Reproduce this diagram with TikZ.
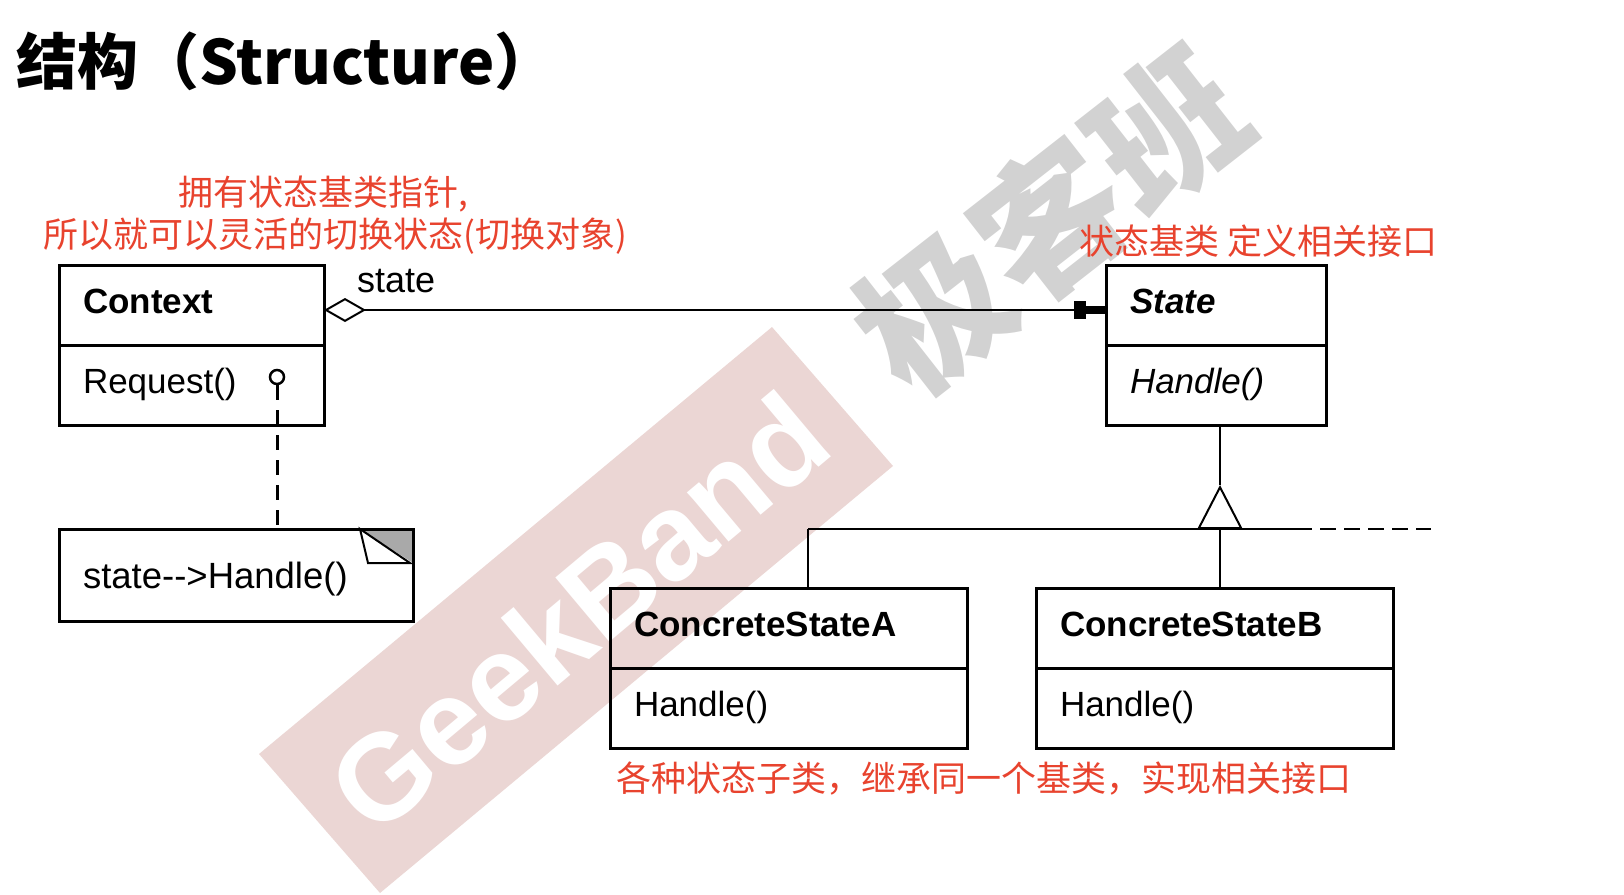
\documentclass[tikz,border=0pt]{standalone}
\usepackage{fontspec}
\setmainfont{Liberation Sans}
\newfontfamily\cjk{Noto Sans CJK SC}
\usetikzlibrary{arrows.meta}
\definecolor{remarkred}{HTML}{E8432E}
\definecolor{wmpink}{HTML}{EBD6D4}
\definecolor{wmgray}{HTML}{D2D2D2}
\definecolor{foldgray}{HTML}{A9A9A9}

\tikzset{
 cls/.style={draw,line width=3pt,outer sep=0pt,minimum height=80pt,inner xsep=24pt,inner ysep=0pt,
   align=left,text height=25pt,text depth=8pt,font=\fontsize{35}{40}\selectfont},
 remark/.style={anchor=west,inner sep=0pt,text=remarkred,font=\cjk\fontsize{35}{40}\selectfont},
 wire/.style={line width=2.5pt},
 assoc/.style={wire,{Diamond[open,length=42pt,width=24pt,line width=2pt]}-{Rectangle[length=12pt,width=18pt]Rectangle[length=20pt,width=8pt]}},
 gen/.style={line width=2pt,-{Triangle[open,length=44pt,width=45pt]}},
 dep/.style={line width=3pt,dash pattern=on 15pt off 10pt},
}

\begin{document}
\begin{tikzpicture}[x=1pt,y=-1pt]
 \useasboundingbox (0,0) rectangle (1624,894);
 % watermark
 \fill[wmpink] (259,754) -- (772,327) -- (893,466) -- (380,893) -- cycle;
 \node[white,rotate=40,font=\bfseries\fontsize{122}{125}\selectfont] (wmband) at (578,612) {GeekBand};
 \node[wmgray,rotate=38,font=\cjk\bfseries\fontsize{148}{150}\selectfont] (wmname) at (1050,220) {极客班};

 \node[anchor=base west,inner sep=0pt,font=\cjk\bfseries\fontsize{61}{66}\selectfont] (title) at (16,84) {结构（Structure）};

 \node[cls,text width=217pt] (context) at (191.5,305) {\bfseries Context};
 \node[cls,text width=217pt,anchor=north] (request) at (context.south) {Request()};
 \node[cls,text width=172pt] (state) at (1216,305) {\bfseries\itshape State};
 \node[cls,text width=172pt,anchor=north] (handle) at (state.south) {\itshape Handle()};
 \node[cls,text width=309pt] (csa) at (788.5,628) {\bfseries ConcreteStateA};
 \node[cls,text width=309pt,anchor=north] (csahandle) at (csa.south) {Handle()};
 \node[cls,text width=309pt] (csb) at (1214.5,628) {\bfseries ConcreteStateB};
 \node[cls,text width=309pt,anchor=north] (csbhandle) at (csb.south) {Handle()};

 \fill[foldgray] (360,529) -- (413,529) -- (413,563) -- cycle;
 \node[cls,minimum height=92pt,text width=306pt,text height=30pt,text depth=4pt,
   font=\fontsize{36.5}{40}\selectfont] (note) at (236,575) {state-{}->Handle()};
 \draw[line width=2pt,fill=white] (360,529) -- (368,563) -- (410,563) -- cycle;

 \node[draw,circle,line width=2.5pt,minimum size=14pt,inner sep=0pt] (lolli) at (277,377) {};
 \draw[dep] (lolli.south) -- (lolli.south |- note.north);

 \draw[assoc] ([yshift=-5pt]context.east) -- ([yshift=-5pt]state.west);
 \node[anchor=base west,inner sep=0pt,font=\fontsize{36}{40}\selectfont] (role) at (357,292) {state};

 \coordinate (hub) at (1220,529);
 \coordinate (apex) at (1220,485);
 \coordinate (busL) at (808,529);
 \coordinate (busR) at (1312,529);
 \coordinate (busEnd) at (1431,529);
 \draw[wire] (busL) -- (busR);
 \draw[wire,dash pattern=on 16pt off 8pt,dash phase=16pt] (busR) -- (busEnd);
 \draw[gen] (hub) -- (apex);
 \draw[wire] (apex) -- (handle.south -| apex);
 \draw[wire] (busL) -- (csa.north -| busL);
 \draw[wire] (hub) -- (csb.north -| hub);

 \node[remark] (rm1) at (178,194) {拥有状态基类指针,};
 \node[remark] (rm2) at (43,236) {所以就可以灵活的切换状态(切换对象)};
 \node[remark] (rm3) at (1079,241) {状态基类 定义相关接口};
 \node[remark] (rm4) at (616,779) {各种状态子类，继承同一个基类，实现相关接口};
\end{tikzpicture}
\end{document}
